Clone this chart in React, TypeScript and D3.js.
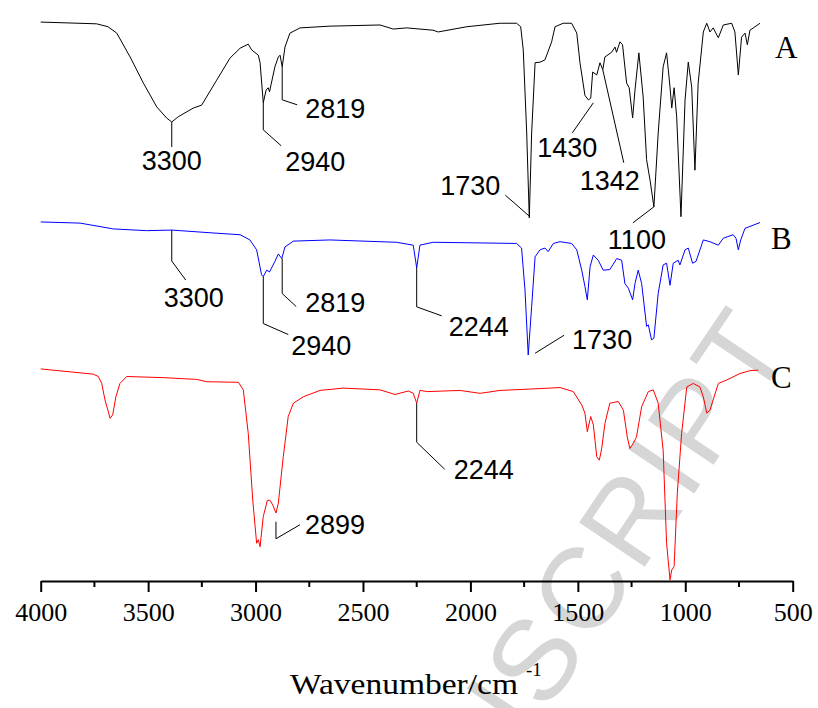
import React, { useEffect, useRef } from 'react';
import * as d3 from 'd3';

const width = 818;
const height = 708;

// spectrum A (black)
const wnA = [4000, 3740, 3687, 3646, 3584, 3522, 3460, 3414, 3390, 3360, 3290, 3251, 3181, 3119, 3072, 3034, 3018, 2987, 2979, 2964, 2951, 2941, 2935, 2910, 2894, 2886, 2876, 2863, 2840, 2793, 2654, 2421, 2359, 2297, 2174, 2150, 2017, 1862, 1785, 1766, 1754, 1738, 1726, 1715, 1699, 1676, 1653, 1622, 1606, 1568, 1529, 1505, 1490, 1467, 1451, 1440, 1431, 1412, 1397, 1384, 1374, 1343, 1327, 1320, 1304, 1292, 1273, 1261, 1245, 1234, 1216, 1196, 1180, 1164, 1146, 1126, 1103, 1087, 1071, 1063, 1052, 1040, 1020, 1001, 986, 970, 955, 940, 916, 900, 885, 870, 846, 823, 784, 769, 753, 738, 722, 711, 699, 652];
const tA = [96.2, 95.9, 95.4, 94.3, 90.2, 85.7, 81.6, 79.7, 79.0, 79.9, 81.4, 81.9, 86.2, 90.0, 91.7, 92.4, 91.4, 90.5, 89.2, 82.3, 84.5, 84.9, 84.2, 88.5, 90.2, 90.5, 88.5, 91.9, 94.3, 95.2, 95.5, 95.7, 95.0, 95.2, 94.8, 94.5, 95.4, 96.0, 96.0, 95.4, 91.4, 77.1, 62.5, 77.1, 89.2, 89.3, 89.7, 92.8, 95.4, 96.0, 96.0, 94.3, 89.2, 83.6, 82.8, 83.1, 87.6, 87.1, 89.2, 88.0, 90.2, 91.0, 91.9, 91.0, 92.8, 92.3, 85.7, 84.9, 79.7, 84.5, 90.9, 83.3, 72.5, 69.0, 64.4, 77.1, 88.5, 90.9, 85.0, 81.4, 84.9, 79.9, 62.7, 82.8, 89.3, 85.0, 70.7, 85.7, 94.5, 96.0, 94.5, 95.2, 93.5, 95.7, 96.0, 94.5, 87.1, 93.6, 94.3, 92.3, 94.8, 96.0];

// spectrum B (blue)
const wnB = [4000, 3817, 3662, 3507, 3390, 3197, 3072, 3026, 2995, 2972, 2964, 2948, 2935, 2910, 2894, 2878, 2863, 2824, 2654, 2344, 2266, 2250, 2235, 2173, 1785, 1762, 1746, 1731, 1715, 1699, 1676, 1653, 1638, 1614, 1583, 1529, 1505, 1482, 1467, 1456, 1443, 1428, 1405, 1382, 1351, 1319, 1296, 1281, 1265, 1245, 1234, 1219, 1203, 1180, 1172, 1157, 1146, 1126, 1103, 1087, 1071, 1056, 1033, 1025, 1001, 986, 966, 950, 916, 885, 846, 823, 777, 764, 753, 742, 722, 652];
const tB = [61.8, 61.6, 60.6, 60.3, 60.4, 59.9, 59.6, 58.7, 57.0, 52.7, 52.4, 53.5, 53.2, 55.0, 56.3, 55.5, 57.5, 58.5, 58.7, 58.3, 57.8, 53.9, 57.8, 58.3, 58.1, 57.3, 50.1, 38.9, 47.2, 55.8, 57.0, 57.3, 56.7, 58.1, 58.4, 58.1, 57.0, 53.5, 50.7, 48.4, 54.1, 56.1, 55.2, 53.5, 53.6, 55.5, 55.2, 51.2, 50.4, 48.4, 51.2, 53.5, 51.2, 43.8, 44.1, 41.5, 41.8, 49.5, 54.4, 54.7, 50.9, 54.7, 55.2, 54.4, 57.0, 57.3, 54.7, 55.0, 58.7, 58.4, 57.8, 59.0, 59.6, 59.0, 57.0, 58.7, 60.7, 61.7];

// spectrum C (red)
const wnC = [4000, 3755, 3732, 3716, 3701, 3685, 3677, 3665, 3650, 3631, 3600, 3429, 3274, 3227, 3080, 3057, 3034, 3013, 2995, 2987, 2979, 2964, 2945, 2933, 2920, 2905, 2894, 2871, 2848, 2824, 2778, 2700, 2592, 2421, 2351, 2289, 2266, 2250, 2235, 2200, 2049, 1955, 1862, 1630, 1583, 1521, 1482, 1467, 1456, 1440, 1428, 1412, 1400, 1389, 1374, 1351, 1312, 1288, 1270, 1258, 1242, 1227, 1203, 1172, 1149, 1126, 1103, 1087, 1071, 1063, 1052, 1037, 1017, 993, 963, 932, 916, 900, 885, 870, 846, 807, 746, 699, 660];
const tC = [36.5, 35.6, 35.2, 34.0, 31.2, 29.1, 28.0, 28.6, 31.7, 34.0, 35.2, 35.0, 34.7, 34.3, 34.2, 32.9, 25.4, 13.9, 6.5, 7.1, 5.9, 11.1, 13.9, 13.9, 13.1, 11.7, 13.4, 21.4, 28.3, 30.6, 31.7, 32.8, 33.2, 32.9, 32.1, 32.7, 32.3, 30.6, 32.8, 32.6, 32.8, 32.3, 32.8, 33.2, 33.3, 32.6, 30.3, 28.9, 25.7, 28.3, 26.9, 21.4, 20.8, 22.8, 27.1, 30.6, 30.9, 29.4, 24.8, 22.8, 23.7, 24.8, 30.0, 32.6, 32.9, 30.6, 22.5, 6.5, 0.2, 1.9, 2.5, 15.1, 25.4, 33.4, 34.0, 33.4, 31.7, 28.9, 29.4, 31.2, 34.0, 34.6, 35.7, 36.2, 36.3];

const series = [
  { name: 'A', wn: wnA, t: tA, color: '#000000' },
  { name: 'B', wn: wnB, t: tB, color: '#0000ff' },
  { name: 'C', wn: wnC, t: tC, color: '#ff0000' },
];

const majorTicks = [4000, 3500, 3000, 2500, 2000, 1500, 1000, 500];
const minorTicks = [3750, 3250, 2750, 2250, 1750, 1250, 750];

// peak labels: anchor on the peak (wn, t), leader offsets and text offset in px
const peaks = [
  { label: '3300', wn: 3390, t: 79.0, leader: [[0, 0], [0, 25]], text: [0, 48], anchor: 'middle' },
  { label: '2940', wn: 2964, t: 82.3, leader: [[0, 0], [0, 27], [18, 43]], text: [22, 68], anchor: 'start' },
  { label: '2819', wn: 2876, t: 88.5, leader: [[0, 0], [0, 33], [15, 38]], text: [23, 51], anchor: 'start' },
  { label: '1730', wn: 1726, t: 62.8, leader: [[0, 0], [-24, -21]], text: [-29, -21], anchor: 'end' },
  { label: '1430', wn: 1428, t: 82.3, leader: [[0, 0], [-21, 30]], text: [-26, 54], anchor: 'middle' },
  { label: '1342', wn: 1384, t: 88.0, leader: [[0, 0], [21, 93]], text: [7, 120], anchor: 'middle' },
  { label: '1100', wn: 1146, t: 64.4, leader: [[0, 0], [-21, 16]], text: [-17, 42], anchor: 'middle' },
  { label: '3300', wn: 3390, t: 60.4, leader: [[0, 0], [0, 31], [14, 50]], text: [22, 77], anchor: 'middle' },
  { label: '2940', wn: 2964, t: 52.4, leader: [[0, 0], [0, 47], [25, 58]], text: [28, 78], anchor: 'start' },
  { label: '2819', wn: 2876, t: 55.5, leader: [[0, 0], [0, 35], [14, 48]], text: [23, 53], anchor: 'start' },
  { label: '2244', wn: 2250, t: 53.9, leader: [[0, 0], [0, 39], [25, 48]], text: [32, 68], anchor: 'start' },
  { label: '1730', wn: 1699, t: 39.2, leader: [[0, 0], [29, -18]], text: [37, -4], anchor: 'start' },
  { label: '2899', wn: 2905, t: 10.2, leader: [[0, 0], [0, 17], [24, 3]], text: [29, 12], anchor: 'start' },
  { label: '2244', wn: 2250, t: 30.6, leader: [[0, 0], [0, 39], [28, 66]], text: [37, 76], anchor: 'start' },
];

const traceLabels = [
  { name: 'A', t: 93.5, x: 775 },
  { name: 'B', t: 60.6, x: 771 },
  { name: 'C', t: 36.7, x: 771 },
];

const serif = '"Liberation Serif", "Times New Roman", serif';
const sans = '"Liberation Sans", Arial, sans-serif';

function FtirChart() {
  const svgRef = useRef(null);

  useEffect(() => {
    const svg = d3.select(svgRef.current);
    svg.selectAll('*').remove();

    const x = d3.scaleLinear().domain([4000, 500]).range([40.7, 792.7]);
    const y = d3.scaleLinear().domain([0, 100]).range([581, 0]);

    // watermark
    svg.append('text')
      .attr('transform', 'translate(795,344) rotate(-56)')
      .attr('text-anchor', 'end')
      .attr('font-family', sans)
      .attr('font-size', 115)
      .attr('letter-spacing', 4)
      .attr('fill', '#d6d6d6')
      .text('ACCEPTED MANUSCRIPT');

    const line = d3.line().x(d => x(d[0])).y(d => y(d[1]));

    series.forEach(s => {
      svg.append('path')
        .datum(s.wn.map((w, i) => [w, s.t[i]]))
        .attr('d', line)
        .attr('fill', 'none')
        .attr('stroke', s.color)
        .attr('stroke-width', 1)
        .attr('stroke-linejoin', 'round');
    });

    // peak annotations
    peaks.forEach(p => {
      const px = x(p.wn);
      const py = y(p.t);
      svg.append('polyline')
        .attr('points', p.leader.map(d => `${px + d[0]},${py + d[1]}`).join(' '))
        .attr('fill', 'none')
        .attr('stroke', '#000')
        .attr('stroke-width', 1);
      svg.append('text')
        .attr('x', px + p.text[0])
        .attr('y', py + p.text[1])
        .attr('text-anchor', p.anchor)
        .attr('font-family', sans)
        .attr('font-size', 27)
        .text(p.label);
    });

    traceLabels.forEach(l => {
      svg.append('text')
        .attr('x', l.x)
        .attr('y', y(l.t) + 20)
        .attr('font-family', serif)
        .attr('font-size', 31)
        .text(l.name);
    });

    // bottom axis
    const axis = svg.append('g').attr('transform', `translate(0,${y(0)})`);
    axis.call(d3.axisBottom(x).tickValues(majorTicks).tickSize(11).tickSizeOuter(0).tickPadding(11).tickFormat(d3.format('d')));
    axis.attr('font-family', serif).attr('font-size', 26);
    axis.select('.domain').attr('stroke-width', 2).attr('stroke', '#000');
    axis.selectAll('.tick line').attr('stroke-width', 2).attr('stroke', '#000');
    axis.selectAll('.tick text')
      .attr('font-family', serif)
      .attr('font-size', 26)
      .attr('fill', '#000');
    axis.selectAll('.minor')
      .data(minorTicks)
      .enter()
      .append('line')
      .attr('x1', d => x(d))
      .attr('x2', d => x(d))
      .attr('y1', 0)
      .attr('y2', 6)
      .attr('stroke', '#000')
      .attr('stroke-width', 2);

    // axis title
    svg.append('text')
      .attr('x', 290)
      .attr('y', 694)
      .attr('textLength', 228)
      .attr('lengthAdjust', 'spacingAndGlyphs')
      .attr('font-family', serif)
      .attr('font-size', 30)
      .text('Wavenumber/cm');
    svg.append('text')
      .attr('x', 526)
      .attr('y', 676)
      .attr('font-family', serif)
      .attr('font-size', 19)
      .text('-1');
  }, []);

  return <svg ref={svgRef} width={width} height={height} style={{ position: 'absolute', left: 0, top: 0, background: '#fff' }} />;
}

export default function App() {
  return <FtirChart />;
}
